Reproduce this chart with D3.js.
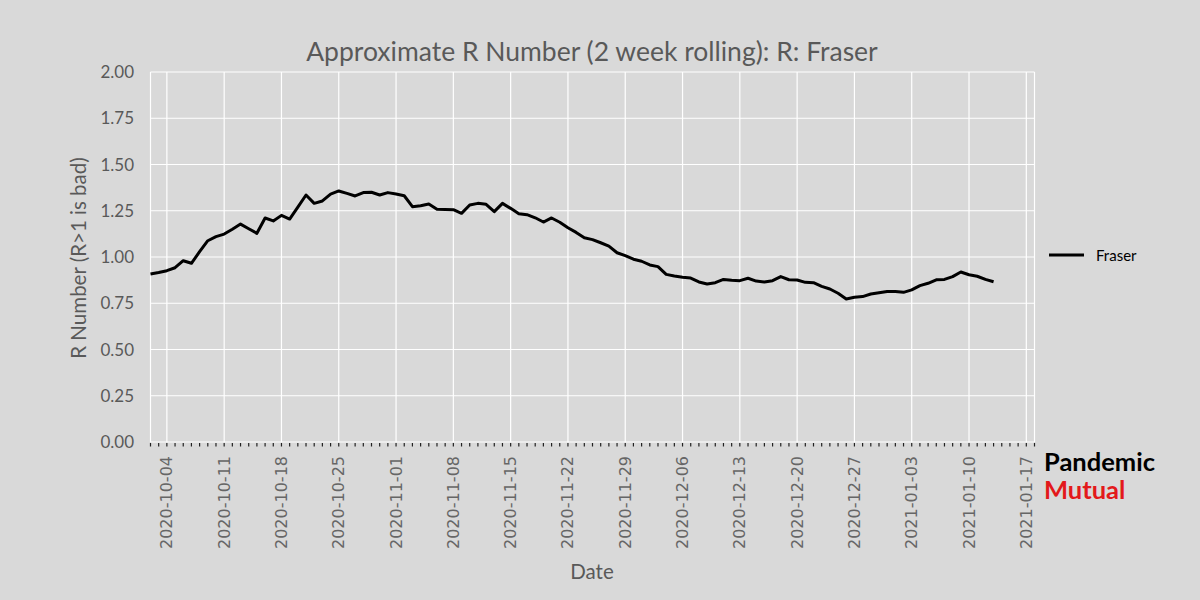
<!DOCTYPE html>
<html>
<head>
<meta charset="utf-8">
<script src="https://cdn.jsdelivr.net/npm/d3@7"></script>
<style>
  html, body { margin: 0; padding: 0; background: #d9d9d9; }
  svg { display: block; }
</style>
</head>
<body>
<svg id="chart" width="1200" height="600"></svg>
<script>
// ---- data ----
const seriesName = "Fraser";
const startDate = "2020-10-02";
const rValues = [
  0.908, 0.916, 0.926, 0.942, 0.980, 0.966, 1.029, 1.088, 1.110, 1.124,
  1.150, 1.178, 1.153, 1.128, 1.211, 1.195, 1.225, 1.205, 1.270, 1.335,
  1.290, 1.303, 1.340, 1.357, 1.344, 1.330, 1.348, 1.350, 1.335, 1.348,
  1.340, 1.331, 1.272, 1.277, 1.286, 1.258, 1.257, 1.256, 1.236, 1.281,
  1.290, 1.285, 1.245, 1.290, 1.263, 1.234, 1.229, 1.212, 1.189, 1.211,
  1.188, 1.158, 1.133, 1.104, 1.094, 1.077, 1.059, 1.023, 1.007, 0.988,
  0.977, 0.957, 0.948, 0.906, 0.897, 0.890, 0.886, 0.865, 0.854, 0.861,
  0.879, 0.874, 0.872, 0.885, 0.870, 0.865, 0.872, 0.894, 0.877, 0.876,
  0.863, 0.861, 0.841, 0.827, 0.804, 0.773, 0.782, 0.786, 0.800, 0.807,
  0.814, 0.814, 0.809, 0.822, 0.845, 0.858, 0.877, 0.879, 0.894, 0.919,
  0.904, 0.896, 0.879, 0.866
];
const xDomain = ["2020-10-02", "2021-01-18"];
const xTickLabels = ["2020-10-04", "2020-10-11", "2020-10-18", "2020-10-25", "2020-11-01",
  "2020-11-08", "2020-11-15", "2020-11-22", "2020-11-29", "2020-12-06", "2020-12-13",
  "2020-12-20", "2020-12-27", "2021-01-03", "2021-01-10", "2021-01-17"];
const yTicks = [0, 0.25, 0.5, 0.75, 1.0, 1.25, 1.5, 1.75, 2.0];
const title = "Approximate R Number (2 week rolling): R: Fraser";
const xLabel = "Date";
const yLabel = "R Number (R>1 is bad)";

// ---- layout ----
const parse = d3.utcParse("%Y-%m-%d");
const start = parse(startDate);
const data = rValues.map((v, i) => ({ date: d3.utcDay.offset(start, i), value: v }));

const L = 150.5, R = 1034.5, T = 72, B = 442;
const svg = d3.select("#chart");
const labelFont = "Lato, 'Open Sans', sans-serif";
const grey = "#595959";

svg.append("rect").attr("width", 1200).attr("height", 600).attr("fill", "#d9d9d9");

const x = d3.scaleUtc().domain(xDomain.map(parse)).range([L, R]);
const y = d3.scaleLinear().domain([0, 2]).range([B, T]);

// horizontal grid
svg.append("g").selectAll("line").data(yTicks).join("line")
  .attr("x1", L).attr("x2", R)
  .attr("y1", d => y(d)).attr("y2", d => y(d))
  .attr("stroke", "#ffffff").attr("stroke-width", 1.2);

// vertical grid at weekly ticks
const majorDates = xTickLabels.map(parse);
svg.append("g").selectAll("line").data(majorDates).join("line")
  .attr("x1", d => x(d)).attr("x2", d => x(d))
  .attr("y1", T).attr("y2", B)
  .attr("stroke", "#ffffff").attr("stroke-width", 1.2);

// plot borders (left / right)
svg.append("line").attr("x1", L).attr("x2", L).attr("y1", T).attr("y2", B)
  .attr("stroke", "#ffffff").attr("stroke-width", 1.2);
svg.append("line").attr("x1", R).attr("x2", R).attr("y1", T).attr("y2", B)
  .attr("stroke", "#ffffff").attr("stroke-width", 1.2);

// minor daily ticks
const dayTicks = d3.utcDay.range(x.domain()[0], d3.utcDay.offset(x.domain()[1], 1));
svg.append("g").selectAll("line").data(dayTicks).join("line")
  .attr("x1", d => x(d)).attr("x2", d => x(d))
  .attr("y1", B + 1).attr("y2", B + 4.5)
  .attr("stroke", "#222").attr("stroke-width", 1.2);

// x tick labels (rotated)
svg.append("g").selectAll("text").data(majorDates).join("text")
  .attr("transform", d => `translate(${x(d) + 5.5},${B + 14}) rotate(-90)`)
  .attr("text-anchor", "end")
  .attr("font-family", "'DejaVu Sans', sans-serif")
  .attr("font-size", 16)
  .attr("fill", "#666666")
  .text((d, i) => xTickLabels[i]);

// y tick labels
svg.append("g").selectAll("text").data(yTicks).join("text")
  .attr("x", 134).attr("y", d => y(d) + 6)
  .attr("text-anchor", "end")
  .attr("font-family", labelFont)
  .attr("font-size", 17)
  .attr("fill", grey)
  .text(d => d3.format(".2f")(d));

// line
const line = d3.line().x(d => x(d.date)).y(d => y(d.value));
svg.append("path").datum(data)
  .attr("d", line)
  .attr("fill", "none")
  .attr("stroke", "#000")
  .attr("stroke-width", 3)
  .attr("stroke-linejoin", "round");

// title
svg.append("text").attr("x", 592).attr("y", 61)
  .attr("text-anchor", "middle")
  .attr("font-family", labelFont)
  .attr("font-size", 26.5)
  .attr("fill", grey)
  .text(title);

// axis labels
svg.append("text").attr("x", 592).attr("y", 579)
  .attr("text-anchor", "middle")
  .attr("font-family", labelFont)
  .attr("font-size", 20.5)
  .attr("fill", grey)
  .text(xLabel);

svg.append("text")
  .attr("transform", `translate(86,258) rotate(-90)`)
  .attr("text-anchor", "middle")
  .attr("font-family", labelFont)
  .attr("font-size", 20.5)
  .attr("fill", grey)
  .text(yLabel);

// legend
svg.append("line").attr("x1", 1049).attr("x2", 1084).attr("y1", 255).attr("y2", 255)
  .attr("stroke", "#000").attr("stroke-width", 3);
svg.append("text").attr("x", 1096).attr("y", 261)
  .attr("font-family", labelFont)
  .attr("font-size", 15)
  .attr("fill", "#000")
  .text(seriesName);

// logo
svg.append("text").attr("x", 1044).attr("y", 471)
  .attr("font-family", labelFont).attr("font-weight", 700)
  .attr("font-size", 25.5).attr("fill", "#000")
  .text("Pandemic");
svg.append("text").attr("x", 1044).attr("y", 499)
  .attr("font-family", labelFont).attr("font-weight", 700)
  .attr("font-size", 25.5).attr("fill", "#e3191b")
  .text("Mutual");
</script>
</body>
</html>
